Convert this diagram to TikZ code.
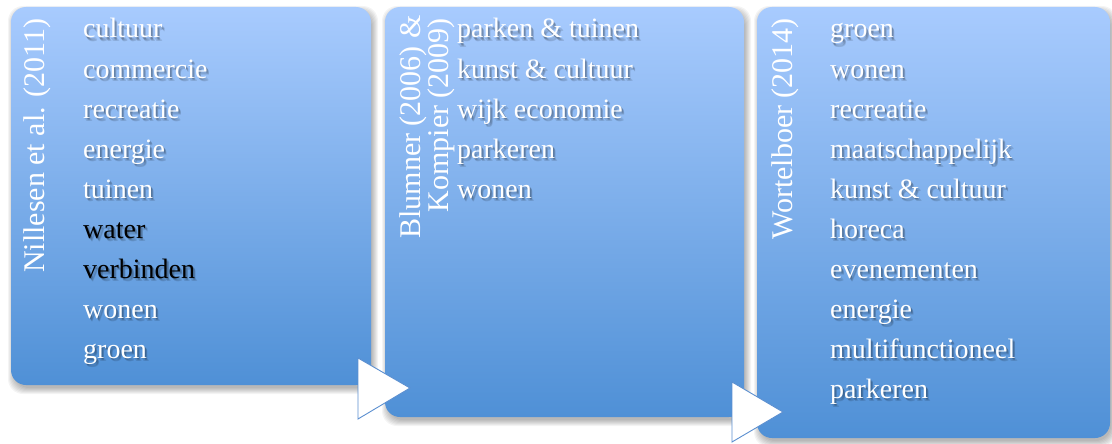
\documentclass[tikz,border=0pt]{standalone}
\usepackage{fontspec}
\setmainfont{Liberation Serif}
\usetikzlibrary{calc}
\definecolor{topblue}{RGB}{168,203,254}
\definecolor{botblue}{RGB}{79,144,214}
\definecolor{tricol}{RGB}{91,143,208}
\newcommand\boxshadow[4]{%
  \foreach \g in {0,1,...,6}{%
    \fill[black, opacity=0.045, rounded corners=15pt] (#1+3-\g, #2+5-\g) rectangle (#3+1+\g, #4+3+\g);
  }}
\newcommand\shlayer[3]{\makebox[0pt][l]{\kern#1\raisebox{#2}{\pgfsetfillopacity{0.13}\color{black}#3\pgfsetfillopacity{1}}}}
\newcommand\shtxt[1]{\shlayer{2pt}{-2.5pt}{#1}\shlayer{1pt}{-1.5pt}{#1}\shlayer{2.5pt}{-3.5pt}{#1}#1}
\begin{document}
\begin{tikzpicture}[x=1pt,y=-1pt,
  box/.style={rounded corners=15pt, top color=topblue, bottom color=botblue, draw=none, inner sep=0pt},
  itm/.style={anchor=base west, inner sep=0pt, text=white, font=\fontsize{28}{34}\selectfont},
  lbl/.style={anchor=base east, inner sep=0pt, rotate=90, text=white, font=\fontsize{30}{36}\selectfont},
  tri/.style={fill=white, draw=tricol, line width=0.9pt, line join=miter}]
\useasboundingbox (0,0) rectangle (1112,444);
\fill[white] (0,0) rectangle (1112,444);
% box 1
\boxshadow{11}{7}{371}{385}
\node[box, minimum width=360pt, minimum height=378pt] (b1) at (191,196) {};
\foreach \t [count=\i from 0] in {cultuur,commercie,recreatie,energie,tuinen,{\color{black}water},{\color{black}verbinden},wonen,groen} {
  \node[itm] (a\i) at (83, 38+40*\i) {\shtxt{\t}};
}
\node[lbl] (l1) at (45,18) {Nillesen et al. (2011)};
% box 2
\boxshadow{385}{7}{744}{417}
\node[box, minimum width=359pt, minimum height=410pt] (b2) at (564.5,212) {};
\foreach \t [count=\i from 0] in {parken \& tuinen,kunst \& cultuur,wijk economie,parkeren,wonen} {
  \node[itm] (bb\i) at (457, 38+40*\i) {\shtxt{\t}};
}
\node[lbl] (l2a) at (420,15) {Blumner (2006) \&};
\node[lbl] (l2b) at (448,18) {Kompier (2009)};
% arrow 1
\coordinate (t1a) at (358,358);
\coordinate (t1b) at (358,419);
\coordinate (t1c) at (410,388);
\draw[tri] (t1a) -- (t1c) -- (t1b) -- cycle;
% box 3
\boxshadow{757}{7}{1110}{438}
\node[box, minimum width=353pt, minimum height=431pt] (b3) at (933.5,222.5) {};
\foreach \t [count=\i from 0] in {groen,wonen,recreatie,maatschappelijk,kunst \& cultuur,horeca,evenementen,energie,multifunctioneel,parkeren} {
  \node[itm] (c\i) at (830, 38+40*\i) {\shtxt{\t}};
}
\node[lbl] (l3) at (792,18) {Wortelboer (2014)};
% arrow 2
\coordinate (t2a) at (732,382);
\coordinate (t2b) at (732,442);
\coordinate (t2c) at (783,412);
\draw[tri] (t2a) -- (t2c) -- (t2b) -- cycle;
\end{tikzpicture}
\end{document}
